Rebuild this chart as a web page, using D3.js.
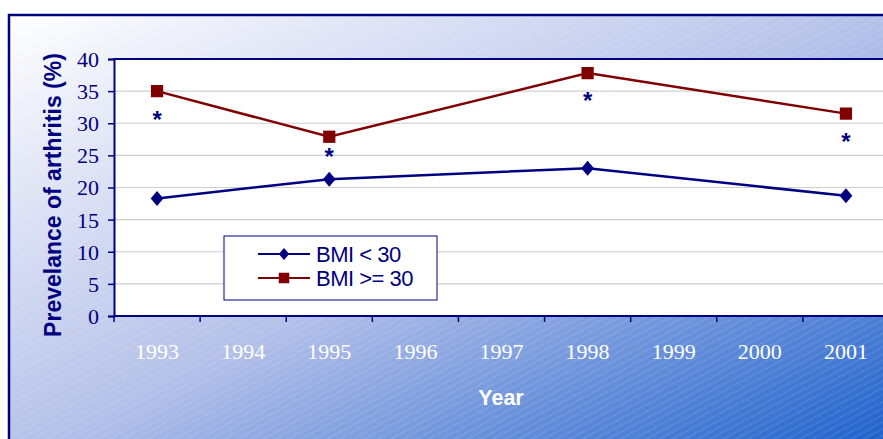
<!DOCTYPE html>
<html lang="en">
<head>
<meta charset="UTF-8">
<script src="https://cdn.jsdelivr.net/npm/d3@7"></script>
<style>
  body { margin: 0; background: #fff; }
  svg { display: block; }
  .tick-y { font-family: "Liberation Serif", "Times New Roman", serif; font-size: 22px; fill: #000080; }
  .tick-x { font-family: "Liberation Serif", "Times New Roman", serif; font-size: 22px; fill: #ffffff; }
  .title { font-family: "Liberation Sans", Arial, sans-serif; font-weight: bold; }
  .legend text { font-family: "Liberation Sans", Arial, sans-serif; font-size: 22px; fill: #000080; letter-spacing: -0.5px; }
</style>
</head>
<body>
<script>
// data
const years = ["1993", "1994", "1995", "1996", "1997", "1998", "1999", "2000", "2001"];
const surveyYears = ["1993", "1995", "1998", "2001"];
const bmiUnder30 = [18.3, 21.3, 23.0, 18.7];
const bmiOver30 = [35.0, 27.9, 37.8, 31.5];
// where the "*" marks sit (in % units, under the red markers)
const starPos = [31.3, 25.5, 34.2, 27.9];
const yTicks = [0, 5, 10, 15, 20, 25, 30, 35, 40];

const W = 883, H = 439;
const navy = "#000080", maroon = "#800000";

const svg = d3.select("body").append("svg").attr("width", W).attr("height", H);
const defs = svg.append("defs");

const grad = defs.append("linearGradient").attr("id", "bg")
  .attr("x1", 0).attr("y1", 0).attr("x2", 1).attr("y2", 1);
grad.append("stop").attr("offset", 0).attr("stop-color", "#ffffff");
grad.append("stop").attr("offset", 0.5).attr("stop-color", "#b3bfe8");
grad.append("stop").attr("offset", 1).attr("stop-color", "#125ac9");

const hatch = defs.append("pattern").attr("id", "hatch")
  .attr("patternUnits", "userSpaceOnUse").attr("width", 12).attr("height", 6)
  .attr("patternTransform", "rotate(-28)");
hatch.append("line").attr("x1", 0).attr("y1", 1).attr("x2", 12).attr("y2", 1)
  .attr("stroke", "#fff").attr("stroke-opacity", 0.3).attr("stroke-width", 1)
  .attr("stroke-dasharray", "1,1");

// outer frame (runs past the right and bottom edge)
svg.append("rect").attr("x", 9).attr("y", 15).attr("width", 900).attr("height", 450)
  .attr("fill", "url(#bg)");
svg.append("rect").attr("x", 9).attr("y", 15).attr("width", 900).attr("height", 450)
  .attr("fill", "url(#hatch)");
svg.append("rect").attr("x", 9).attr("y", 15).attr("width", 900).attr("height", 450)
  .attr("fill", "none").attr("stroke", navy).attr("stroke-width", 2.5);

const x = d3.scaleBand().domain(years).range([114, 889]);
const y = d3.scaleLinear().domain([0, 40]).range([316, 59]);
const cx = d => x(d) + x.bandwidth() / 2;

// plot area
svg.append("rect").attr("x", 114).attr("y", 59).attr("width", 775).attr("height", 257)
  .attr("fill", "#fff");

svg.append("g").selectAll("line").data(yTicks.filter(t => t > 0 && t < 40)).join("line")
  .attr("x1", 114).attr("x2", 889)
  .attr("y1", d => y(d)).attr("y2", d => y(d))
  .attr("stroke", "#cfcfcf").attr("stroke-width", 1.2);

svg.append("line").attr("x1", 113).attr("x2", 889).attr("y1", y(40)).attr("y2", y(40))
  .attr("stroke", navy).attr("stroke-width", 2);

// y axis
const yAxis = svg.append("g").attr("transform", "translate(114,0)")
  .call(d3.axisLeft(y).tickValues(yTicks).tickSize(6).tickPadding(9));
yAxis.select(".domain").attr("stroke", navy).attr("stroke-width", 2);
yAxis.selectAll(".tick line").attr("stroke", navy).attr("stroke-width", 1.5);
yAxis.selectAll(".tick text").attr("class", "tick-y").attr("font-family", null).attr("font-size", null)
  .attr("fill", null).attr("dy", "0.34em");

// x axis, ticks on band edges
const xAxis = svg.append("g").attr("transform", "translate(0,316)");
xAxis.append("line").attr("x1", 114).attr("x2", 889).attr("stroke", navy).attr("stroke-width", 2);
xAxis.selectAll(".edge").data(years).join("line").attr("class", "edge")
  .attr("x1", d => x(d)).attr("x2", d => x(d)).attr("y1", 0).attr("y2", 6)
  .attr("stroke", navy).attr("stroke-width", 1.5);
xAxis.selectAll("text").data(years).join("text").attr("class", "tick-x")
  .attr("x", d => cx(d)).attr("y", 43).attr("text-anchor", "middle").text(d => d);

// titles
svg.append("text").attr("class", "title").attr("fill", navy).attr("font-size", 23)
  .attr("transform", "translate(61,195) rotate(-90)").attr("text-anchor", "middle")
  .text("Prevelance of arthritis (%)");
svg.append("text").attr("class", "title").attr("fill", "#fff").attr("font-size", 21.5)
  .attr("x", 501).attr("y", 405).attr("text-anchor", "middle").text("Year");

// markers
const diamond = {
  draw(ctx, size) {
    const h = Math.sqrt(size) / 2, w = h * 0.85;
    ctx.moveTo(0, -h); ctx.lineTo(w, 0); ctx.lineTo(0, h); ctx.lineTo(-w, 0); ctx.closePath();
  }
};
const line = d3.line().x(d => cx(d[0])).y(d => y(d[1]));

const series = [
  { name: "BMI < 30", values: bmiUnder30, color: navy, sym: diamond, size: 225, lsize: 150 },
  { name: "BMI >= 30", values: bmiOver30, color: maroon, sym: d3.symbolSquare, size: 150, lsize: 110 }
];

series.forEach(s => {
  const pts = surveyYears.map((yr, i) => [yr, s.values[i]]);
  svg.append("path").attr("d", line(pts)).attr("fill", "none")
    .attr("stroke", s.color).attr("stroke-width", 2.5);
  svg.append("g").selectAll("path").data(pts).join("path")
    .attr("d", d3.symbol(s.sym, s.size))
    .attr("transform", d => `translate(${cx(d[0])},${y(d[1])})`)
    .attr("fill", s.color);
});

// significance stars
svg.append("g").selectAll("text").data(surveyYears).join("text")
  .attr("x", d => cx(d)).attr("y", (d, i) => y(starPos[i]) + 13)
  .attr("text-anchor", "middle").attr("fill", navy)
  .attr("font-family", "Liberation Sans, Arial, sans-serif").attr("font-weight", "bold")
  .attr("font-size", 24).text("*");

// legend
const lg = svg.append("g").attr("class", "legend");
lg.append("rect").attr("x", 224).attr("y", 236).attr("width", 213).attr("height", 64)
  .attr("fill", "#fff").attr("stroke", navy).attr("stroke-width", 1);
series.forEach((s, i) => {
  const ly = 254 + i * 24;
  lg.append("line").attr("x1", 258).attr("x2", 310).attr("y1", ly).attr("y2", ly)
    .attr("stroke", s.color).attr("stroke-width", 2);
  lg.append("path").attr("d", d3.symbol(s.sym, s.lsize))
    .attr("transform", `translate(284,${ly})`).attr("fill", s.color);
  lg.append("text").attr("x", 316).attr("y", ly + 8).text(s.name);
});
</script>
</body>
</html>
